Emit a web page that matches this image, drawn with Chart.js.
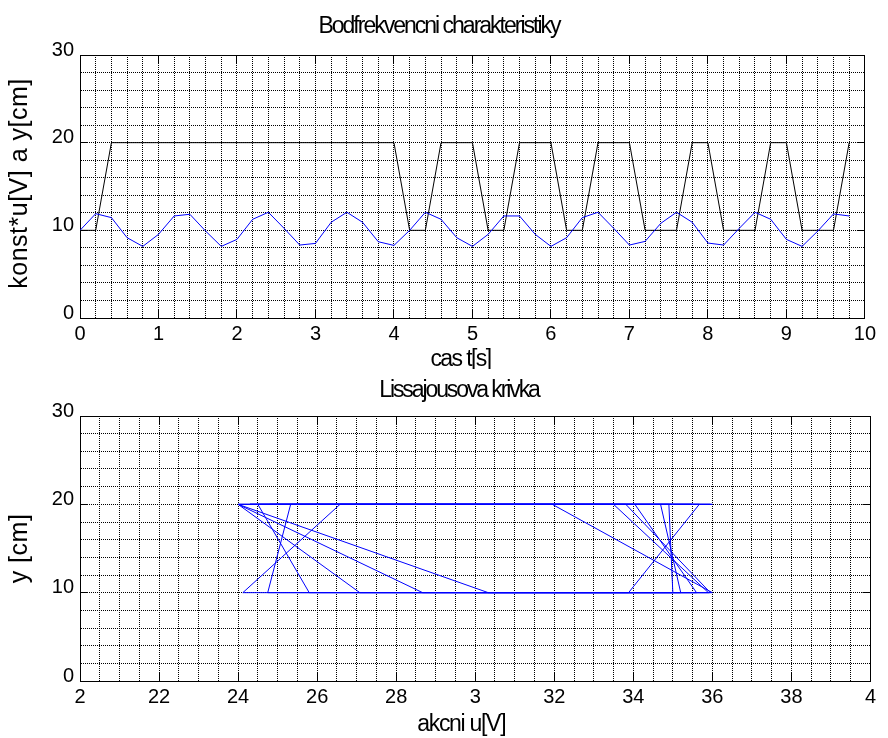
<!DOCTYPE html>
<html><head><meta charset="utf-8">
<script src="https://cdn.jsdelivr.net/npm/chart.js@4.4.1/dist/chart.umd.min.js"></script>
<style>
html,body{margin:0;padding:0;background:#fff;}
#wrap{position:relative;width:888px;height:738px;background:#fff;overflow:hidden;}
canvas{position:absolute;left:0;}
</style></head><body>
<div id="wrap">
<canvas id="c1" width="888" height="369" style="top:0px"></canvas>
<canvas id="c2" width="888" height="369" style="top:369px"></canvas>
</div>
<script>
// ---- data ----
const timeS = [0,0.2,0.4,0.6,0.8,1,1.2,1.4,1.6,1.8,2,2.2,2.4,2.6,2.8,3,3.2,3.4,3.6,3.8,4,4.2,4.4,4.6,4.8,5,5.2,5.4,5.6,5.8,6,6.2,6.4,6.6,6.8,7,7.2,7.4,7.6,7.8,8,8.2,8.4,8.6,8.8,9,9.2,9.4,9.6,9.8];
const konstU = [10,10,20,20,20,20,20,20,20,20,20,20,20,20,20,20,20,20,20,20,20,10,10,20,20,20,10,10,20,20,20,10,10,20,20,20,10,10,10,20,20,10,10,10,20,20,10,10,10,20];
const outputY = [10,11.9,11.45,9.16,8.17,9.54,11.64,11.83,9.92,8.17,8.97,11.26,12.06,10.23,8.32,8.51,10.92,12.06,10.92,8.7,8.28,10,12.06,11.26,9.16,8.17,9.54,11.64,11.64,9.54,8.17,9.16,11.45,12.06,10.23,8.32,8.74,10.8,12.06,10.92,8.55,8.32,10.23,12.06,11.26,8.97,8.17,9.92,11.87,11.64];
const lissX = [30,35.6,34.04,27.5,24.3,28.6,34.9,35.5,29.8,24.3,26.9,33.8,36,30.7,24.8,25.4,32.8,35.95,32.8,26.1,24,30.33,35.95,33.81,27.5,24,28.67,35,34.9,28.6,24,27.08,33.88,35.67,30.7,24.5,25.8,32.4,36,31.95,25.33,24.75,30.7,35.9,33.5,26.58,24.12,29.8,35.2,34.69];
const lissY = [10,10,20,20,20,20,20,20,20,20,20,20,20,20,20,20,20,20,20,20,20,10,10,20,20,20,10,10,20,20,20,10,10,20,20,20,10,10,10,20,20,10,10,10,20,20,10,10,10,20];
const topXTickLabels = ['0','1','2','3','4','5','6','7','8','9','10'];
const lissXTickLabels = ['2','22','24','26','28','3','32','34','36','38','4'];
const yTickLabels = ['0','10','20','30'];

// ---- styling ----
const TXT = "'Liberation Sans',Arial,sans-serif";
const TICKF = "'Liberation Sans',Arial,sans-serif";
const GRID = '#000';
const DASH = [1,1];
const TL = -8;

function mult(v, m){ const r = v / m; return Math.abs(r - Math.round(r)) < 1e-6; }
function majorColor(m){ return (c) => (c.tick && mult(c.tick.value, m)) ? '#000' : 'rgba(0,0,0,0)'; }

function tweak(obj, fn, o){
  const orig = obj[fn];
  obj[fn] = function(...a){
    const c = this.ctx;
    c.save();
    if (o.ls) { try { c.letterSpacing = o.ls; } catch(e){} }
    c.translate(o.dx || 0, o.dy || 0);
    const r = orig.apply(this, a);
    c.restore();
    return r;
  };
}

function build(canvasId, cfg){
  const ds = cfg.series.map(s => ({
    label: s.label,
    data: s.xs.map((x, i) => ({x: x, y: s.ys[i]})),
    borderColor: s.color, backgroundColor: s.color,
    borderWidth: 1, pointRadius: 0, tension: 0, fill: false, order: s.order
  }));
  const chart = new Chart(document.getElementById(canvasId), {
    type: 'line',
    data: { datasets: ds },
    options: {
      responsive: false, animation: false, devicePixelRatio: 1, events: [],
      layout: { padding: 0 },
      plugins: {
        legend: { display: false }, tooltip: { enabled: false },
        title: { display: true, text: cfg.title, color: '#000',
          font: { family: TXT, size: 23, weight: 'normal', lineHeight: '20px' },
          padding: { top: cfg.titleTop, bottom: cfg.titleBottom } }
      },
      scales: {
        x: {
          type: 'linear', position: 'bottom', min: cfg.xMin, max: cfg.xMax,
          ticks: { stepSize: cfg.xStep, autoSkip: false, maxRotation: 0, minRotation: 0,
            padding: 12, color: '#000', font: { family: TICKF, size: 20 },
            callback: (v) => mult(v - cfg.xMin, cfg.xMajor) ? cfg.xLabels[Math.round((v - cfg.xMin) / cfg.xMajor)] : '' },
          grid: { color: GRID, lineWidth: 1, tickLength: TL, tickColor: majorColor(cfg.xMajor), tickWidth: 1 },
          border: { display: true, color: '#000', width: 1, dash: DASH },
          title: { display: true, text: cfg.xTitle, color: '#000',
            font: { family: TXT, size: 23, weight: 'normal', lineHeight: '20px' },
            padding: { top: 0, bottom: cfg.xTitlePad } },
          afterFit: (s) => { s.height = cfg.xAxisH; }
        },
        y: {
          type: 'linear', position: 'left', min: 0, max: 30,
          ticks: { stepSize: 2, autoSkip: false, padding: 14, labelOffset: -5, color: '#000',
            font: { family: TICKF, size: 20 },
            callback: (v) => mult(v, 10) ? yTickLabels[Math.round(v / 10)] : '' },
          grid: { color: GRID, lineWidth: 1, tickLength: TL, tickColor: majorColor(10), tickWidth: 1 },
          border: { display: true, color: '#000', width: 1, dash: DASH },
          title: { display: true, text: cfg.yTitle, color: '#000',
            font: { family: TXT, size: 25, weight: 'normal', lineHeight: '20px' },
            padding: { top: 10, bottom: 0 } },
          afterFit: (s) => { s.width = 80; }
        },
        x2: {
          type: 'linear', position: 'top', min: cfg.xMin, max: cfg.xMax,
          ticks: { display: false, stepSize: cfg.xMajor },
          grid: { drawOnChartArea: false, tickLength: TL, tickColor: '#000', color: '#000' },
          border: { display: true, color: '#000', width: 1 },
          afterFit: (s) => { s.height = 0; }
        },
        y2: {
          type: 'linear', position: 'right', min: 0, max: 30,
          ticks: { display: false, stepSize: 10 },
          grid: { drawOnChartArea: false, tickLength: TL, tickColor: '#000', color: '#000' },
          border: { display: true, color: '#000', width: 1 },
          afterFit: (s) => { s.width = 14; }
        }
      }
    }
  });
  tweak(chart.titleBlock, 'draw', { dx: cfg.titleDx, ls: cfg.titleLs });
  tweak(chart.scales.x, 'drawTitle', { dx: cfg.xTitleDx, ls: cfg.xTitleLs });
  tweak(chart.scales.y, 'drawTitle', { dy: cfg.yTitleDy, ls: cfg.yTitleLs });
  chart.draw();
  return chart;
}

build('c1', {
  title: 'Bodfrekvencni charakteristiky', titleTop: 17, titleBottom: 18, titleDx: -5, titleLs: '-2px',
  xMin: 0, xMax: 10, xStep: 0.2, xMajor: 1, xLabels: topXTickLabels,
  xTitle: 'cas t[s]', xTitlePad: -1, xTitleDx: -12, xTitleLs: '-1.6px', xAxisH: 51,
  yTitle: 'konst*u[V] a y[cm]', yTitleLs: '0.5px', yTitleDy: -3,
  series: [
    { label: 'konst*u', xs: timeS, ys: konstU, color: '#000000', order: 1 },
    { label: 'y', xs: timeS, ys: outputY, color: '#0000ff', order: 0 }
  ]
});

build('c2', {
  title: 'Lissajousova krivka', titleTop: 12, titleBottom: 15, titleDx: 15, titleLs: '-2.1px',
  xMin: 20, xMax: 40, xStep: 0.5, xMajor: 2, xLabels: lissXTickLabels,
  xTitle: 'akcni u[V]', xTitlePad: 3, xTitleDx: -14, xTitleLs: '-1.3px', xAxisH: 57,
  yTitle: 'y [cm]', yTitleLs: '0.5px', yTitleDy: 0,
  series: [
    { label: 'Lissajous', xs: lissX, ys: lissY, color: '#0000ff', order: 0 }
  ]
});
</script>
</body></html>
